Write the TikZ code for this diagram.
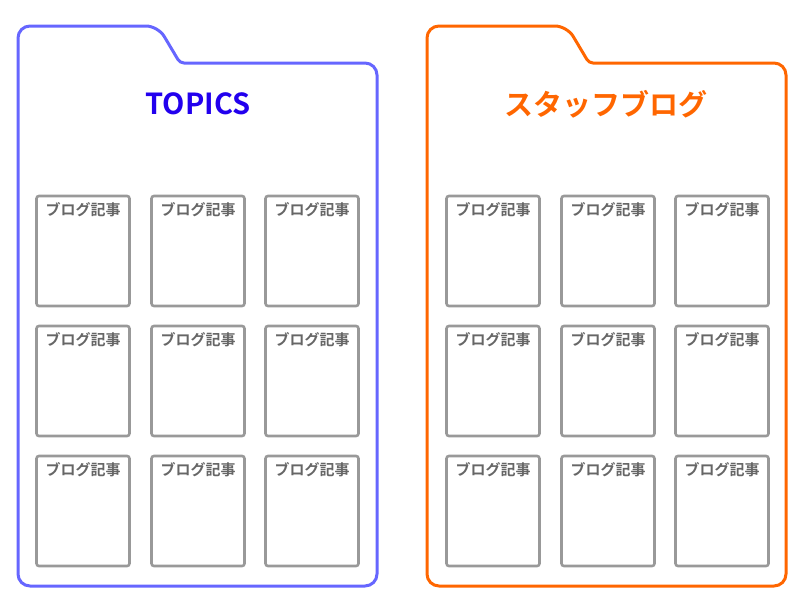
\documentclass[tikz,border=0pt]{standalone}
\usepackage{fontspec}
\setmainfont{Noto Sans CJK JP}[BoldFont={* Bold}]
\usepackage{tikz}
\usetikzlibrary{positioning}

\definecolor{topicline}{HTML}{6666FF}
\definecolor{topictext}{HTML}{2200EE}
\definecolor{staffline}{HTML}{FF6600}
\definecolor{cardline}{HTML}{999999}
\definecolor{cardtext}{HTML}{666666}

\begin{document}
\begin{tikzpicture}[
            x=1pt, y=-1pt,
            folder/.style={line width=3pt, rounded corners=12pt},
            card/.style={rectangle, draw=cardline, line width=2.6pt, rounded corners=2.5pt, minimum width=93pt, minimum height=110pt, inner sep=0pt},
            cardlbl/.style={font=\bfseries\fontsize{15}{15}\selectfont, text=cardtext, inner sep=0pt, anchor=north},
            title/.style={font=\bfseries\fontsize{29}{29}\selectfont, inner sep=0pt}
        ]
            \useasboundingbox (0,0) rectangle (800,600);

            % folders
            \draw[folder, topicline] (18,300) -- (18,26) -- (158,26) [rounded corners=4pt] -- (180,63) [rounded corners=12pt] -- (377,63) -- (377,586) -- (18,586) -- cycle;
            \draw[folder, staffline] (427,300) -- (427,26) -- (567,26) [rounded corners=4pt] -- (589,63) [rounded corners=12pt] -- (786,63) -- (786,586) -- (427,586) -- cycle;

            % titles
            \node[title, text=topictext] (topics) at (198,104) {TOPICS};
            \node[title, text=staffline] (staff) at (606,104) {スタッフブログ};

            % cards
            \foreach \col/\x in {1/83, 2/198, 3/312} {
                \foreach \row/\y in {1/251, 2/381, 3/511} {
                    \node[card] (t\row\col) at (\x,\y) {};
                    \node[cardlbl] (tl\row\col) at ([yshift=-8pt]t\row\col.north) {ブログ記事};
                }
            }
            \foreach \col/\x in {1/493, 2/608, 3/722} {
                \foreach \row/\y in {1/251, 2/381, 3/511} {
                    \node[card] (s\row\col) at (\x,\y) {};
                    \node[cardlbl] (sl\row\col) at ([yshift=-8pt]s\row\col.north) {ブログ記事};
                }
            }
        \end{tikzpicture}
\end{document}
